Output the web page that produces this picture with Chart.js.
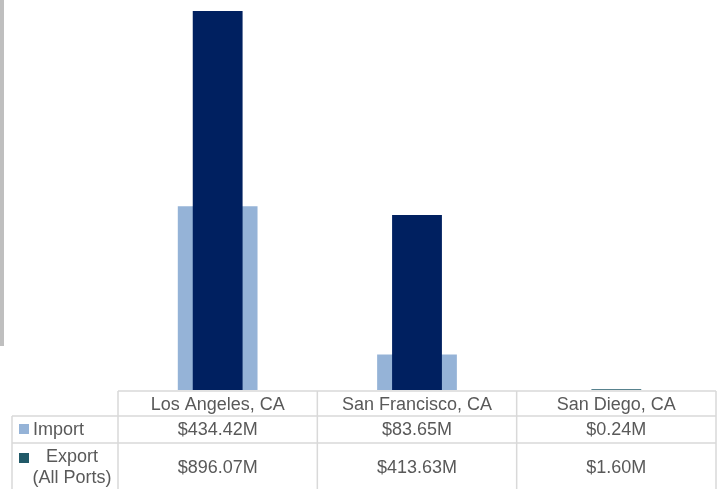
<!DOCTYPE html>
<html lang="en">
<head>
    <meta charset="UTF-8">
    <title>Import vs Export by Port</title>
    <script src="https://cdn.jsdelivr.net/npm/chart.js"></script>
    <style>
        body { margin: 0; background: #ffffff; }
        #wrap { width: 721px; height: 489px; position: relative; }
    </style>
</head>
<body>
    <div id="wrap"><canvas id="chart"></canvas></div>
    <script>
        // data
        const ports = ['Los Angeles, CA', 'San Francisco, CA', 'San Diego, CA'];
        const importVals = [434.42, 83.65, 0.24];
        const exportVals = [896.07, 413.63, 1.60];
        const importLabels = ['$434.42M', '$83.65M', '$0.24M'];
        const exportLabels = ['$896.07M', '$413.63M', '$1.60M'];

        const importColor = '#95B3D7';
        const exportColors = ['#002060', '#002060', '#215968'];
        const exportKeyColor = '#215968';
        const lineColor = '#D9D9D9';
        const textColor = '#595959';

        // draws the data table under the plot + the grey bar at the left edge
        const tablePlugin = {
            id: 'dataTable',
            afterDraw(chart) {
                const ctx = chart.ctx;
                const x = chart.scales.x;
                const area = chart.chartArea;
                const colW = (area.right - area.left) / ports.length;
                const left = 12, top = 391, r1 = 416, r2 = 443, bottom = 489;

                ctx.save();
                // grey edge line
                ctx.fillStyle = '#BFBFBF';
                ctx.fillRect(0, 0, 4, 346);

                ctx.strokeStyle = lineColor;
                ctx.lineWidth = 1.5;
                ctx.beginPath();
                ctx.moveTo(area.left, top); ctx.lineTo(area.right, top);
                ctx.moveTo(left, r1); ctx.lineTo(area.right, r1);
                ctx.moveTo(left, r2); ctx.lineTo(area.right, r2);
                ctx.moveTo(left, r1); ctx.lineTo(left, bottom);
                for (let i = 0; i <= ports.length; i++) {
                    const cx = area.left + colW * i;
                    ctx.moveTo(cx, top); ctx.lineTo(cx, bottom);
                }
                ctx.stroke();

                ctx.font = '18px "Liberation Sans", Arial, sans-serif';
                ctx.fillStyle = textColor;
                ctx.textAlign = 'center';
                ctx.textBaseline = 'middle';
                ports.forEach((p, i) => {
                    const cx = x.getPixelForValue(i);
                    ctx.fillText(p, cx, 405);
                    ctx.fillText(importLabels[i], cx, 430);
                    ctx.fillText(exportLabels[i], cx, 468);
                });

                // row headers with legend keys
                ctx.fillStyle = importColor;
                ctx.fillRect(19, 424, 10, 10);
                ctx.fillStyle = exportKeyColor;
                ctx.fillRect(19, 453, 10, 10);

                ctx.fillStyle = textColor;
                ctx.textAlign = 'left';
                ctx.fillText('Import', 33, 430);
                ctx.textAlign = 'center';
                ctx.fillText('Export', 72, 457);
                ctx.fillText('(All Ports)', 72, 478);
                ctx.restore();
            }
        };

        new Chart(document.getElementById('chart'), {
            type: 'bar',
            data: {
                labels: ports,
                datasets: [
                    {
                        label: 'Import',
                        data: importVals,
                        backgroundColor: importColor,
                        grouped: false,
                        categoryPercentage: 1,
                        barPercentage: 0.4,
                        order: 2
                    },
                    {
                        label: 'Export (All Ports)',
                        data: exportVals,
                        backgroundColor: exportColors,
                        grouped: false,
                        categoryPercentage: 1,
                        barPercentage: 0.25,
                        order: 1
                    }
                ]
            },
            options: {
                responsive: true,
                maintainAspectRatio: false,
                animation: false,
                layout: { padding: { left: 118, right: 5, top: 0, bottom: 99 } },
                scales: {
                    x: { display: false },
                    y: { display: false, min: 0, max: 922 }
                },
                plugins: {
                    legend: { display: false },
                    tooltip: { enabled: false }
                }
            },
            plugins: [tablePlugin]
        });
    </script>
</body>
</html>
